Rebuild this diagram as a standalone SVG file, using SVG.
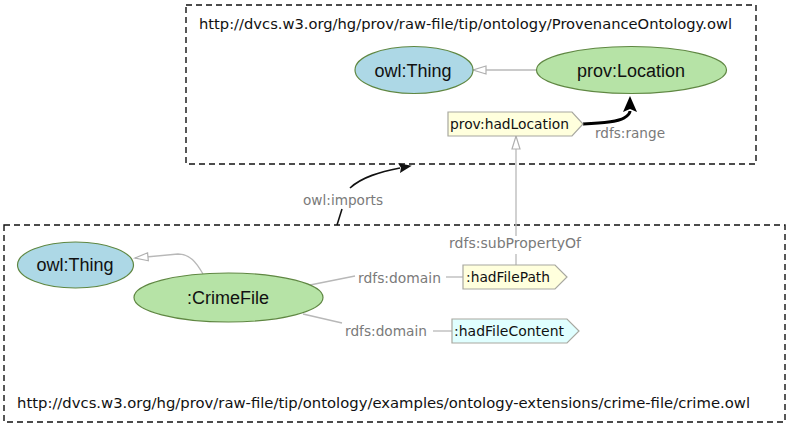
<svg xmlns="http://www.w3.org/2000/svg" width="788" height="428" viewBox="0 0 788 428">
<style>
.frame{fill:none;stroke:#111;stroke-width:1.4;stroke-dasharray:6,4}
.url{font-family:"DejaVu Sans",sans-serif;font-size:14px;fill:#111}
.cls{stroke:#5f8742;stroke-width:1.2}
.thing{fill:#add8e6}
.green{fill:#b6e3a6}
.ntext{font-family:"Liberation Sans",Arial,sans-serif;font-size:18px;fill:#111;text-anchor:middle}
.prop{stroke:#a8a8a0;stroke-width:1.2}
.ptext{font-family:"DejaVu Sans",sans-serif;font-size:14.5px;fill:#111}
.edge{fill:none;stroke:#b8b8b8;stroke-width:1.3}
.bold{fill:none;stroke:#000;stroke-width:3}
.imp{fill:none;stroke:#111;stroke-width:1.6}
.lbl{font-family:"DejaVu Sans",sans-serif;font-size:14px;fill:#7a7a7a}
</style>
<defs>
<marker id="hollow" markerUnits="userSpaceOnUse" viewBox="-1 -1 15 10" refX="13" refY="4" markerWidth="15" markerHeight="10" orient="auto" overflow="visible">
<path d="M0,0 L13,4 L0,8 z" fill="#fff" stroke="#b0b0b0" stroke-width="1.2"/>
</marker>
<marker id="big" markerUnits="userSpaceOnUse" viewBox="0 0 16 14" refX="1" refY="7" markerWidth="16" markerHeight="14" orient="auto" overflow="visible">
<path d="M0,0 L16,7 L0,14 L3,7 z" fill="#000"/>
</marker>
<marker id="small" markerUnits="userSpaceOnUse" viewBox="0 0 13 10" refX="1" refY="5" markerWidth="13" markerHeight="10" orient="auto" overflow="visible">
<path d="M0,0 L13,5 L0,10 L2,5 z" fill="#111"/>
</marker>
</defs>
<rect width="788" height="428" fill="#fff"/>

<g id="ontology-prov">
<rect class="frame" x="186" y="5" width="570" height="159"/>
<text class="url" x="199" y="29" textLength="533" lengthAdjust="spacingAndGlyphs">http://dvcs.w3.org/hg/prov/raw-file/tip/ontology/ProvenanceOntology.owl</text>
</g>
<g id="ontology-crime">
<rect class="frame" x="4" y="225" width="781" height="197"/>
<text class="url" x="17" y="408" textLength="733" lengthAdjust="spacingAndGlyphs">http://dvcs.w3.org/hg/prov/raw-file/tip/ontology/examples/ontology-extensions/crime-file/crime.owl</text>
</g>

<g id="connectors">
<path class="edge" d="M537,70 L473,70" marker-end="url(#hollow)"/>
<path class="bold" d="M583,124 C603,123 618,122 624,118 C629,115 630,113 630,111" marker-end="url(#big)"/>
<path class="edge" d="M516,236 L516,136" marker-end="url(#hollow)"/>
<path class="edge" d="M516,254 L516,265"/>
<path class="imp" d="M337,225 L342,209"/>
<path class="imp" d="M350,188 C362,177 380,172 400,168" marker-end="url(#small)"/>
<path class="edge" d="M203,274 C196,262 190,254 178,254 L135,258" marker-end="url(#hollow)"/>
<path class="edge" d="M310,285 L355,276"/>
<path class="edge" d="M446,277 L463,277"/>
<path class="edge" d="M303,314 L342,323"/>
<path class="edge" d="M433,331 L452,331"/>
<text class="lbl" x="595" y="138" textLength="70" lengthAdjust="spacingAndGlyphs">rdfs:range</text>
<text class="lbl" x="449" y="248" textLength="132" lengthAdjust="spacingAndGlyphs">rdfs:subPropertyOf</text>
<text class="lbl" x="303" y="205" textLength="80" lengthAdjust="spacingAndGlyphs">owl:imports</text>
<text class="lbl" x="358" y="283" textLength="83" lengthAdjust="spacingAndGlyphs">rdfs:domain</text>
<text class="lbl" x="345" y="336" textLength="82" lengthAdjust="spacingAndGlyphs">rdfs:domain</text>
</g>

<g id="prov-owlThing">
<ellipse class="cls thing" cx="414" cy="70" rx="59" ry="23.5"/>
<text class="ntext" x="413" y="77">owl:Thing</text>
</g>
<g id="prov-Location">
<ellipse class="cls green" cx="631.5" cy="70" rx="95" ry="23.5"/>
<text class="ntext" x="631" y="77">prov:Location</text>
</g>
<g id="prov-hadLocation">
<path class="prop" fill="#ffffdd" d="M448,112 L572,112 L583,124 L572,136 L448,136 z"/>
<text class="ptext" x="450" y="129" textLength="119" lengthAdjust="spacingAndGlyphs">prov:hadLocation</text>
</g>
<g id="crime-owlThing">
<ellipse class="cls thing" cx="75.5" cy="265" rx="58" ry="23"/>
<text class="ntext" x="75" y="271">owl:Thing</text>
</g>
<g id="crime-CrimeFile">
<ellipse class="cls green" cx="228.5" cy="297.5" rx="94.5" ry="24.5"/>
<text class="ntext" x="228" y="304">:CrimeFile</text>
</g>
<g id="crime-hadFilePath">
<path class="prop" fill="#ffffdd" d="M463,265 L555,265 L567,277 L555,289 L463,289 z"/>
<text class="ptext" x="466" y="282" textLength="84" lengthAdjust="spacingAndGlyphs">:hadFilePath</text>
</g>
<g id="crime-hadFileContent">
<path class="prop" fill="#e0ffff" d="M452,319 L567,319 L579,331 L567,343 L452,343 z"/>
<text class="ptext" x="454" y="336" textLength="110" lengthAdjust="spacingAndGlyphs">:hadFileContent</text>
</g>
</svg>
